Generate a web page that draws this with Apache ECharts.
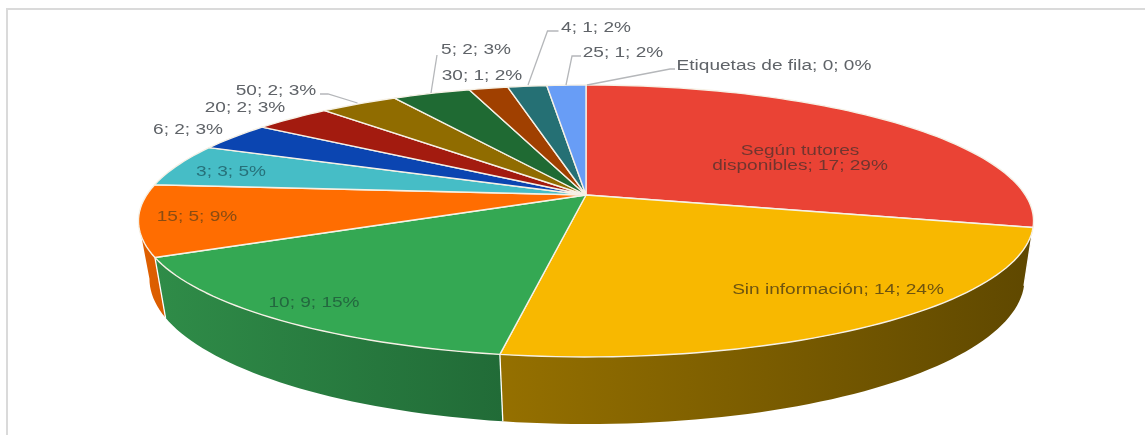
<!DOCTYPE html>
<html><head><meta charset="utf-8">
<style>html,body{margin:0;padding:0;background:#fff}#c{width:1145px;height:435px}</style>
<script src="https://cdn.jsdelivr.net/npm/echarts@6/dist/echarts.min.js"></script>
</head><body><div id="c"></div>
<script>
const categories = ['Según tutores disponibles','Sin información','10','15','3','6','20','50','5','30','4','25','Etiquetas de fila'];
const values = [17,14,9,5,3,2,2,2,2,1,1,1,0];
const percents = [29,24,15,9,5,3,3,3,3,2,2,2,0];
const topColors = ['#ea4335','#f8b800','#34a853','#ff6d01','#46bdc6','#0b45b1','#a31b0f','#906c00','#1f6a33','#a04000','#257074','#689df6','#3b78e7'];
const wallLeft  = ['#a52c22','#957000','#2f8c48','#e06000','#2f8088','#083080','#701008','#604800','#144822','#702c00','#184c50','#4870a8','#28508c'];
const wallRight = ['#a52c22','#5f4800','#216b37','#d95c00','#2f8088','#083080','#701008','#604800','#144822','#702c00','#184c50','#4870a8','#28508c'];
const textColors = ['#71352f','#6e5410','#23683f','#8a4c12','#27717a','#5f6368','#5f6368','#5f6368','#5f6368','#5f6368','#5f6368','#5f6368','#5f6368'];
const labelSpots = [[800,159],[838,290],[314,303],[197,217],[231,172],[188,130],[245,108],[276,91],[476,50],[482,76],[596,28],[623,53],[774,66]];
const leaders = [null,null,null,null,null,null,null,
  [[357.5,103],[328,94],[320,94]],
  [[431,93],[437,55]],
  null,
  [[528,85],[547.5,31],[558.5,31]],
  [[566,85],[572,56],[581,56]],
  [[587,85],[670,69],[675,69]]];

const topPlane = {cx:586, cy:195, ax:439.3, by:131, k:0.191};
const basePlane = {cx:587, cy:251, ax:429.5, by:140, k:0.191};
const silhouette = [101,259];
const total = values.reduce((a,b)=>a+b,0);

function project(p, deg){
  const t = deg*Math.PI/180, u = Math.sin(t), v = -Math.cos(t), d = 1 - p.k*v;
  return [p.cx + p.ax*u/d, p.cy + p.by*v/d];
}
function arc(p, a0, a1){
  const n = Math.max(2, Math.ceil(Math.abs(a1-a0)/1.5)), r = [];
  for(let i=0;i<=n;i++) r.push(project(p, a0+(a1-a0)*i/n));
  return r;
}
const cum = []; values.reduce((s,v,i)=>(cum[i]=s,s+v),0);

function renderItem(params, api){
  const i = params.dataIndex, val = api.value(1);
  const a0 = api.value(2)/total*360, a1 = (api.value(2)+val)/total*360;
  const kids = [];
  if(val>0){
    const vis0 = Math.max(a0,silhouette[0]), vis1 = Math.min(a1,silhouette[1]);
    if(vis1>vis0){
      const up = arc(topPlane,vis0,vis1), dn = arc(basePlane,vis1,vis0);
      const xs = up.concat(dn).map(q=>q[0]);
      kids.push({type:'polygon',z2:1,shape:{points:up.concat(dn)},
        style:{fill:new echarts.graphic.LinearGradient(Math.min(...xs),0,Math.max(...xs),0,
            [{offset:0,color:wallLeft[i]},{offset:1,color:wallRight[i]}],true)}});
      if(a1<silhouette[1]) kids.push({type:'line',z2:1.5,shape:{x1:project(topPlane,a1)[0],y1:project(topPlane,a1)[1],x2:project(basePlane,a1)[0],y2:project(basePlane,a1)[1]},
        style:{stroke:'#ffffff',lineWidth:1.3}});
    }
    kids.push({type:'polygon',z2:2,shape:{points:[[topPlane.cx,topPlane.cy]].concat(arc(topPlane,a0,a1))},
      style:{fill:topColors[i],stroke:'#f6f1e6',lineWidth:1.4,lineJoin:'round'}});
  }
  if(leaders[i]) kids.push({type:'polyline',z2:3,shape:{points:leaders[i]},style:{fill:null,stroke:'#b5b7ba',lineWidth:1.3}});
  const tail = '; '+val+'; '+percents[i]+'%';
  const text = i===0 ? 'Según tutores\ndisponibles'+tail : categories[i]+tail;
  kids.push({type:'text',z2:4,x:labelSpots[i][0],y:labelSpots[i][1],scaleX:1.36,
    style:{text:text,align:'center',verticalAlign:'middle',lineHeight:15,
      font:'14px "Liberation Sans", Arial, sans-serif',fill:textColors[i]}});
  return {type:'group',children:kids};
}
const chart = echarts.init(document.getElementById('c'),null,{renderer:'canvas'});
chart.setOption({
  animation:false,
  backgroundColor:'#ffffff',
  graphic:[
    {type:'line',z:-1,shape:{x1:6,y1:9,x2:1145,y2:9},style:{stroke:'#dadada',lineWidth:2}},
    {type:'line',z:-1,shape:{x1:7,y1:8,x2:7,y2:435},style:{stroke:'#dadada',lineWidth:2}}
  ],
  series:[{type:'custom',coordinateSystem:'none',renderItem:renderItem,
    data:categories.map((c,i)=>[c,values[i],cum[i]]),
    dimensions:['category','value','start'],
    encode:{itemName:0,value:1}}]
});
</script></body></html>
